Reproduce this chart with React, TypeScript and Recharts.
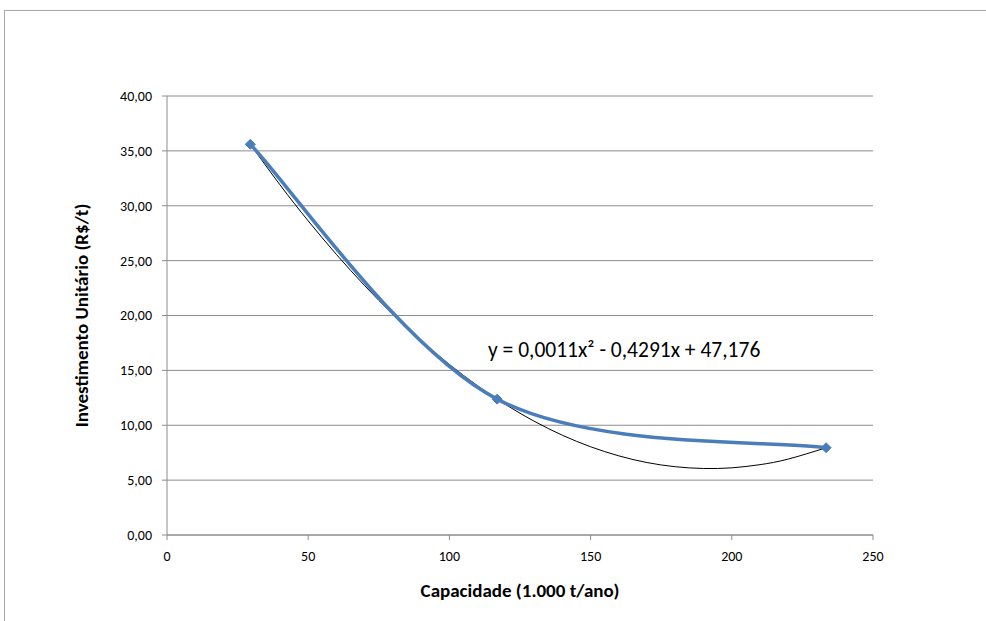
import { ComposedChart, Line, XAxis, YAxis, CartesianGrid, Label } from "recharts";

// pontos medidos
const capacidade = [29.5, 116.9, 233.4];
const investimento = [35.6, 12.38, 7.95];

// linha de tendência polinomial
const trendX = [29.5, 40, 50, 60, 70, 80, 90, 100, 110, 120, 130, 140, 150, 160, 170, 180, 190, 200, 210, 220, 233.4];
const trendY = [35.6, 31.91, 28.62, 25.56, 22.72, 20.1, 17.71, 15.54, 13.59, 11.87, 10.37, 9.09, 8.04, 7.21, 6.6, 6.22, 6.06, 6.12, 6.41, 6.92, 7.95];

const xTicks = [0, 50, 100, 150, 200, 250];
const yTicks = [0, 5, 10, 15, 20, 25, 30, 35, 40];

const equacao = "y = 0,0011x² - 0,4291x + 47,176";

const pontos = capacidade.map((x, i) => ({ x, y: investimento[i] }));
const tendencia = trendX.map((x, i) => ({ x, t: trendY[i] }));

const FONT = "Carlito, Calibri, Lato, sans-serif";
const BLUE = "#4A7EBB";

// suavização parecida com a do Excel (bezier com tangentes de Catmull-Rom)
function excelCurve(context: any) {
  let pts: number[][] = [];
  return {
    areaStart() {},
    areaEnd() {},
    lineStart() {
      pts = [];
    },
    point(x: number, y: number) {
      pts.push([+x, +y]);
    },
    lineEnd() {
      const n = pts.length;
      if (!n) return;
      context.moveTo(pts[0][0], pts[0][1]);
      for (let i = 0; i < n - 1; i++) {
        const p0 = pts[Math.max(i - 1, 0)];
        const p1 = pts[i];
        const p2 = pts[i + 1];
        const p3 = pts[Math.min(i + 2, n - 1)];
        context.bezierCurveTo(
          p1[0] + (p2[0] - p0[0]) / 6,
          p1[1] + (p2[1] - p0[1]) / 6,
          p2[0] - (p3[0] - p1[0]) / 6,
          p2[1] - (p3[1] - p1[1]) / 6,
          p2[0],
          p2[1]
        );
      }
    },
  };
}

function Diamond(props: any) {
  const { cx, cy } = props;
  if (cx == null || cy == null) return null;
  const s = 5;
  return (
    <polygon
      points={`${cx},${cy - s} ${cx + s},${cy} ${cx},${cy + s} ${cx - s},${cy}`}
      fill={BLUE}
      stroke={BLUE}
    />
  );
}

export default function App() {
  return (
    <div style={{ position: "absolute", left: 0, top: 0, width: 986, height: 621, overflow: "hidden", background: "#fff" }}>
      <div
        style={{
          position: "absolute",
          left: 4,
          top: 10,
          width: 1000,
          height: 700,
          border: "1px solid #a6a6a6",
        }}
      />
      <ComposedChart
        width={986}
        height={621}
        margin={{ top: 96, right: 113, bottom: 20, left: 87 }}
        style={{ position: "absolute", left: 0, top: 0, fontFamily: FONT }}
      >
        <CartesianGrid vertical={false} stroke="#8c8c8c" strokeWidth={1} />
        <XAxis
          type="number"
          dataKey="x"
          domain={[0, 250]}
          ticks={xTicks}
          height={66}
          stroke="#8c8c8c"
          tickSize={5}
          tickMargin={11}
          tick={{ fill: "#000", fontSize: 14 }}
          allowDataOverflow
        >
          <Label
            value="Capacidade (1.000 t/ano)"
            position="insideBottom"
            offset={4}
            style={{ fill: "#000", fontSize: 19, fontWeight: "bold" }}
          />
        </XAxis>
        <YAxis
          type="number"
          domain={[0, 40]}
          ticks={yTicks}
          width={80}
          stroke="#8c8c8c"
          tickSize={5}
          tickMargin={10}
          tick={{ fill: "#000", fontSize: 14 }}
          tickFormatter={(v: number) => v.toFixed(2).replace(".", ",")}
          allowDataOverflow
        >
          <Label
            value="Investimento Unitário (R$/t)"
            angle={-90}
            position="insideLeft"
            offset={-6}
            style={{ textAnchor: "middle", fill: "#000", fontSize: 19, fontWeight: "bold" }}
          />
        </YAxis>
        <Line
          data={tendencia}
          dataKey="t"
          type="natural"
          stroke="#000"
          strokeWidth={1}
          dot={false}
          activeDot={false}
          isAnimationActive={false}
        />
        <Line
          data={pontos}
          dataKey="y"
          type={excelCurve as any}
          stroke={BLUE}
          strokeWidth={3.5}
          dot={<Diamond />}
          activeDot={false}
          isAnimationActive={false}
        />
      </ComposedChart>
      <div
        style={{
          position: "absolute",
          left: 488,
          top: 337,
          fontFamily: FONT,
          fontSize: 21.5,
          lineHeight: "26px",
          color: "#000",
          whiteSpace: "nowrap",
        }}
      >
        {equacao}
      </div>
    </div>
  );
}
